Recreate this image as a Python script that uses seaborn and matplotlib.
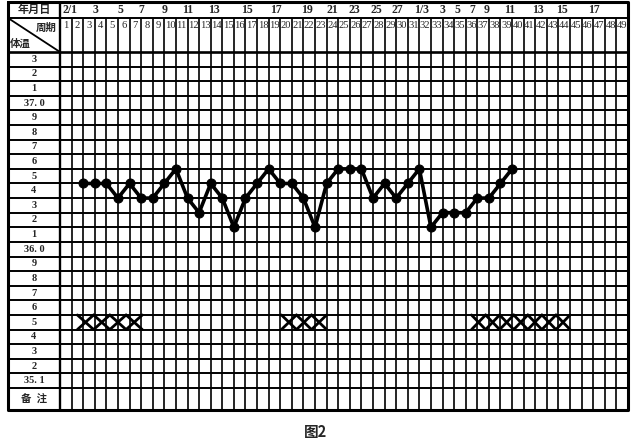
import matplotlib
matplotlib.use("Agg")
import matplotlib.pyplot as plt
import seaborn as sns
import numpy as np

# cycle days that have a reading, and the basal temperature read on each
cycle_days = list(range(3, 41))
temps = [36.5, 36.5, 36.5, 36.4, 36.5, 36.4, 36.4, 36.5, 36.6, 36.4,
         36.3, 36.5, 36.4, 36.2, 36.4, 36.5, 36.6, 36.5, 36.5, 36.4,
         36.2, 36.5, 36.6, 36.6, 36.6, 36.4, 36.5, 36.4, 36.5, 36.6,
         36.2, 36.3, 36.3, 36.3, 36.4, 36.4, 36.5, 36.6]

# row labels of the temperature scale (37.3 down to 35.1)
row_labels = ["3", "2", "1", "37. 0", "9", "8", "7", "6", "5", "4", "3", "2", "1",
              "36. 0", "9", "8", "7", "6", "5", "4", "3", "2", "35. 1"]
top_temp = 37.3

# date row (年月日) labels and where they sit along the cycle columns
date_labels = ["2/1", "3", "5", "7", "9", "11", "13", "15", "17", "19", "21", "23",
               "25", "27", "1/3", "3", "5", "7", "9", "11", "13", "15", "17"]
date_pos = [0.9, 3.1, 5.2, 7.0, 9.0, 11.0, 13.3, 16.1, 18.6, 21.3, 23.5, 25.4,
            27.3, 29.1, 31.2, 33.0, 34.3, 35.6, 36.8, 38.8, 41.2, 43.3, 46.1]

n_cols = 49
# menses marks: (first column edge, last column edge, number of crosses)
menses = [(1.5, 7.1, 4), (19.1, 23.0, 3), (35.5, 44.0, 7)]
menses_temp = 35.5

sns.set_theme(style="white")
plt.rcParams['font.family'] = ['Liberation Serif', 'Noto Sans CJK SC', 'DejaVu Sans']

fig = plt.figure(figsize=(6.33, 4.45), dpi=100)
ax = fig.add_axes([8 / 633, 1 - 410 / 445, 620 / 633, 408 / 445])

label_w = 52 / (568 / n_cols)
h1, h2 = 16 / 14.61, 34 / 14.61
n_rows = len(row_labels)
note_h = 22 / 14.61
y_top = -(h1 + h2)
y_bot = n_rows + note_h
ax.set_xlim(-label_w, n_cols)
ax.set_ylim(y_bot, y_top)
ax.axis("off")

lw = 1.2
# horizontal grid
for r in range(n_rows + 1):
    ax.hlines(r, -label_w, n_cols, color="black", lw=1.4 if r else 1.9)
ax.hlines(-h2, -label_w, n_cols, color="black", lw=1.4)
# vertical grid
for c in range(1, n_cols):
    ax.vlines(c, -h2, y_bot, color="black", lw=lw)
ax.vlines(0, y_top, y_bot, color="black", lw=1.7)
# outer frame
ax.plot([-label_w, n_cols, n_cols, -label_w, -label_w],
        [y_top, y_top, y_bot, y_bot, y_top], color="black", lw=2.2, clip_on=False)
# diagonal in the corner cell
ax.plot([-label_w, 0], [-h2, 0], color="black", lw=1.3)

# header texts
ax.text(-label_w / 2, y_top + h1 / 2, "年月日", ha="center", va="center",
        fontsize=8, fontweight="bold")
ax.text(-1.15, -1.65, "周期", ha="center", va="center", fontsize=7.5, fontweight="bold")
ax.text(-3.4, -0.55, "体温", ha="center", va="center", fontsize=7.5, fontweight="bold")
for lab, p in zip(date_labels, date_pos):
    ax.text(p, y_top + h1 / 2, lab, ha="center", va="center", fontsize=8.5,
            fontweight="bold")
for c in range(1, n_cols + 1):
    ax.text(c - 0.5, -1.8, str(c), ha="center", va="center", fontsize=7.6)

# temperature scale labels
for r, lab in enumerate(row_labels):
    ax.text(-label_w / 2, r + 0.5, lab, ha="center", va="center", fontsize=7.5,
            fontweight="bold")
ax.text(-label_w / 2, n_rows + note_h / 2, "备  注", ha="center", va="center",
        fontsize=7.5, fontweight="bold")

# temperature curve: points sit on the column edge and on the line under the value
xs = np.array(cycle_days) - 1
ys = (top_temp - np.array(temps)) * 10 + 1
sns.lineplot(x=xs, y=ys, ax=ax, color="black", linewidth=2.6, marker="o",
             markersize=6.5, markeredgecolor="black", sort=False)
ax.set_xlim(-label_w, n_cols)
ax.set_ylim(y_bot, y_top)

# menses crosses
row_m = (top_temp - menses_temp) * 10
for x0, x1, n in menses:
    edges = np.linspace(x0, x1, n + 1)
    for a, b in zip(edges[:-1], edges[1:]):
        ax.plot([a, b], [row_m, row_m + 1], color="black", lw=2)
        ax.plot([a, b], [row_m + 1, row_m], color="black", lw=2)

fig.text(316 / 633, 1 - 432 / 445, "图2", ha="center", va="center", fontsize=10.5,
         fontweight="bold", family=['Noto Sans CJK SC', 'DejaVu Sans'])

fig.savefig("out.png", dpi=100, facecolor="white")
